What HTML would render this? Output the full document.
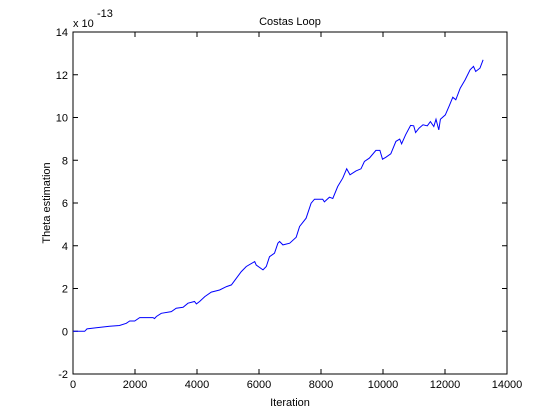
<!DOCTYPE html>
<html><head><meta charset="utf-8"><style>
html,body{margin:0;padding:0;background:#fff;}
svg{display:block;font-family:"Liberation Sans",sans-serif;}
</style></head><body>
<svg id="chart" width="560" height="420">
<rect x="0" y="0" width="560" height="420" fill="#fff"/>
<rect x="73" y="32" width="434" height="342" fill="#fff" stroke="#000" stroke-width="1"/>
<text x="290" y="25" font-size="11" text-anchor="middle">Costas Loop</text>
<text x="290" y="406" font-size="11" text-anchor="middle">Iteration</text>
<text transform="translate(50,203) rotate(-90)" font-size="11" text-anchor="middle">Theta estimation</text>
<text x="73" y="27" font-size="11">x 10</text>
<text x="97" y="17" font-size="11">-13</text>
<g id="axes"></g>
<polyline id="line" fill="none" stroke="#0000ff" stroke-width="1"/>
</svg>
<script>
const xTicks=[0,2000,4000,6000,8000,10000,12000,14000];
const yTicks=[-2,0,2,4,6,8,10,12,14];
const iterations=[0,376,450,750,1180,1500,1720,1830,1990,2150,2580,2630,2690,2850,3170,3330,3550,3710,3920,3980,4085,4250,4460,4730,4950,5110,5270,5430,5590,5860,5910,6130,6235,6340,6500,6610,6665,6770,6990,7200,7310,7520,7680,7790,8055,8110,8270,8380,8540,8700,8830,8935,9130,9290,9400,9560,9770,9900,9985,10090,10250,10415,10540,10600,10730,10890,10990,11050,11160,11290,11430,11530,11640,11710,11800,11850,12010,12140,12250,12350,12490,12650,12810,12920,12990,13130,13230];
const theta=[0,0,0.11,0.16,0.23,0.27,0.37,0.48,0.48,0.64,0.64,0.59,0.69,0.84,0.92,1.08,1.12,1.31,1.39,1.28,1.39,1.62,1.83,1.93,2.09,2.17,2.48,2.79,3.03,3.26,3.1,2.87,3.03,3.49,3.65,4.12,4.2,4.04,4.12,4.4,4.9,5.29,5.99,6.18,6.18,6.05,6.27,6.21,6.77,7.16,7.6,7.32,7.5,7.6,7.94,8.1,8.46,8.46,8.05,8.14,8.3,8.88,8.99,8.77,9.19,9.63,9.61,9.3,9.5,9.66,9.61,9.81,9.58,9.92,9.42,9.92,10.12,10.55,10.95,10.83,11.37,11.76,12.23,12.39,12.15,12.31,12.7];
const L=73,R=507,T=32,B=374;
function sx(v){return L+(v-0)/(14000-0)*(R-L);}
function sy(v){return B-(v+2)/16*(B-T);}
const NS='http://www.w3.org/2000/svg';
const g=document.getElementById('axes');
function mk(tag,attrs){const e=document.createElementNS(NS,tag);for(const k in attrs)e.setAttribute(k,attrs[k]);return e;}
xTicks.forEach(v=>{
  const x=sx(v);
  const t1=mk('line',{x1:x,x2:x,y1:B,y2:B-5,stroke:'#000'});
  
  
  g.appendChild(t1);
  const t2=mk('line',{x1:x,x2:x,y1:T,y2:T+5,stroke:'#000'});
  
  
  g.appendChild(t2);
  const lb=mk('text',{x:x,y:B+14,'font-size':11,'text-anchor':'middle'});
  lb.textContent=v;
  
  
  g.appendChild(lb);
});
yTicks.forEach(v=>{
  const y=sy(v);
  const t1=mk('line',{x1:L,x2:L+5,y1:y,y2:y,stroke:'#000'});
  
  
  g.appendChild(t1);
  const t2=mk('line',{x1:R,x2:R-5,y1:y,y2:y,stroke:'#000'});
  
  
  g.appendChild(t2);
  const lb=mk('text',{x:L-5,y:y+4,'font-size':11,'text-anchor':'end'});
  lb.textContent=v;
  
  
  g.appendChild(lb);
});
document.getElementById('line').setAttribute('points',iterations.map((v,i)=>sx(v).toFixed(1)+','+sy(theta[i]).toFixed(1)).join(' '));
</script>
</body></html>
